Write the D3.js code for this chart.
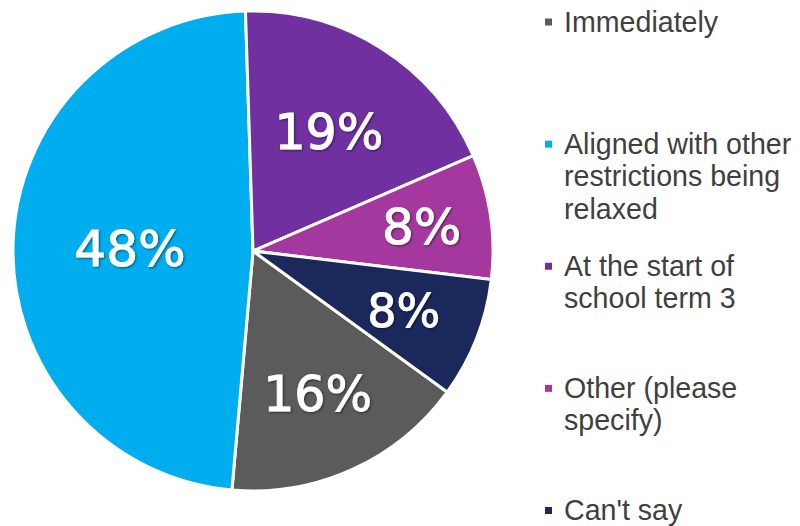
<!DOCTYPE html>
<html>
<head>
<meta charset="utf-8">
<script src="https://cdn.jsdelivr.net/npm/d3@7/dist/d3.min.js"></script>
<style>
  html, body { margin: 0; padding: 0; background: #fff; }
  svg { display: block; }
</style>
</head>
<body>
<svg width="800" height="526"></svg>
<script>
// data, in legend order
var categories = [
  "Immediately",
  "Aligned with other restrictions being relaxed",
  "At the start of school term 3",
  "Other (please specify)",
  "Can't say"
];
var legendLines = [
  ["Immediately"],
  ["Aligned with other", "restrictions being", "relaxed"],
  ["At the start of", "school term 3"],
  ["Other (please", "specify)"],
  ["Can't say"]
];
var shares = [16.4, 48.1, 19.0, 8.4, 8.1];

var colors = ["#5b5b5b", "#00aeef", "#7030a0", "#a5389e", "#1b285c"];
// label placement (fraction of radius) and size per slice
var labelRadius = [0.65, 0.513, 0.59, 0.71, 0.675];
var labelSize = [49, 50, 49, 50, 46];

var svg = d3.select("svg"),
    cx = 253, cy = 251, R = 240;

var startDeg = 126;
var pie = d3.pie()
    .sort(null)
    .startAngle(startDeg * Math.PI / 180)
    .endAngle(startDeg * Math.PI / 180 + 2 * Math.PI)
    .value(function(d) { return d; });

var arcs = pie(shares);

var arc = d3.arc().innerRadius(0).outerRadius(R);

var defs = svg.append("defs");
defs.append("filter")
    .attr("id", "shadow")
    .attr("x", "-20%").attr("y", "-20%")
    .attr("width", "140%").attr("height", "140%")
  .append("feDropShadow")
    .attr("dx", 1.2).attr("dy", 1.2)
    .attr("stdDeviation", 1.2)
    .attr("flood-color", "#000")
    .attr("flood-opacity", 0.45);

var g = svg.append("g")
    .attr("transform", "translate(" + cx + "," + cy + ")");

g.selectAll("path.slice")
  .data(arcs)
  .enter().append("path")
    .attr("class", "slice")
    .attr("d", arc)
    .attr("fill", function(d, i) { return colors[i]; })
    .attr("stroke", "#fff")
    .attr("stroke-width", 3)
    .attr("stroke-linejoin", "round");

g.selectAll("text.pct")
  .data(arcs)
  .enter().append("text")
    .attr("class", "pct")
    .attr("transform", function(d, i) {
      var r = R * labelRadius[i];
      var a = (d.startAngle + d.endAngle) / 2;
      return "translate(" + (Math.sin(a) * r) + "," + (-Math.cos(a) * r) + ")";
    })
    .attr("text-anchor", "middle")
    .attr("dy", "0.36em")
    .attr("fill", "#fff")
    .attr("stroke", "#fff")
    .attr("stroke-width", 0.9)
    .attr("filter", "url(#shadow)")
    .style("font-family", "'DejaVu Sans', sans-serif")
    .style("font-size", function(d, i) { return labelSize[i] + "px"; })
    .text(function(d) { return Math.round(d.data) + "%"; });

// legend
var legendY = d3.scalePoint()
    .domain(categories)
    .range([31.5, 520]);

var legend = svg.append("g")
    .attr("class", "legend");

var item = legend.selectAll("g.item")
  .data(categories)
  .enter().append("g")
    .attr("class", "item")
    .attr("transform", function(d) { return "translate(0," + legendY(d) + ")"; });

item.append("rect")
    .attr("x", 545)
    .attr("y", -13)
    .attr("width", 7)
    .attr("height", 7)
    .attr("fill", function(d, i) { return colors[i]; });

item.append("text")
    .attr("x", 564)
    .attr("fill", "#404040")
    .style("font-family", "'Liberation Sans', Arial, sans-serif")
    .style("font-size", "28.6px")
    .selectAll("tspan")
    .data(function(d, i) { return legendLines[i]; })
    .enter().append("tspan")
      .attr("x", 564)
      .attr("y", function(d, j) { return j * 32.5; })
      .text(function(d) { return d; });
</script>
</body>
</html>
